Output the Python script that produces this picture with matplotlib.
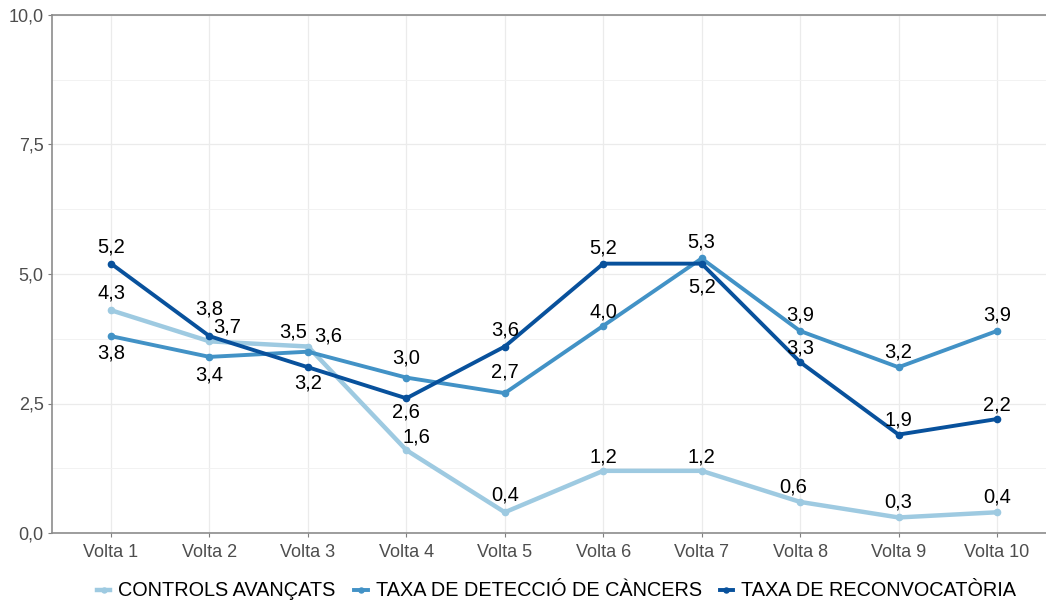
import matplotlib
matplotlib.use("Agg")
import matplotlib.pyplot as plt
import numpy as np

plt.rcParams['font.family'] = ['Liberation Sans', 'DejaVu Sans']

voltes = ["Volta 1", "Volta 2", "Volta 3", "Volta 4", "Volta 5",
          "Volta 6", "Volta 7", "Volta 8", "Volta 9", "Volta 10"]

controls = [4.3, 3.7, 3.6, 1.6, 0.4, 1.2, 1.2, 0.6, 0.3, 0.4]
deteccio = [3.8, 3.4, 3.5, 3.0, 2.7, 4.0, 5.3, 3.9, 3.2, 3.9]
reconv = [5.2, 3.8, 3.2, 2.6, 3.6, 5.2, 5.2, 3.3, 1.9, 2.2]

noms = ["CONTROLS AVANÇATS", "TAXA DE DETECCIÓ DE CÀNCERS", "TAXA DE RECONVOCATÒRIA"]
colors = ["#9ecae1", "#4292c6", "#08519c"]

# decalatge de les etiquetes en pixels (dx, dy), dy positiu = cap avall
off_controls = [(0, -17), (18, -14), (20, -11), (10, -13), (0, -17),
                (0, -14), (0, -14), (-7, -15), (0, -15), (0, -15)]
off_deteccio = [(0, 17), (0, 18), (-15, -20), (0, -20), (0, -21),
                (0, -14), (0, -16), (0, -16), (0, -15), (0, -16)]
off_reconv = [(0, -17), (0, -27), (0, 16), (0, 14), (0, -17),
              (0, -16), (0, 23), (0, -14), (0, -15), (0, -14)]

fig = plt.figure(figsize=(10.46, 6.03), dpi=100)
ax = fig.add_axes([52 / 1046, 70 / 603, (1056 - 52) / 1046, 518 / 603])

x = np.arange(1, len(voltes) + 1)
series = [(controls, off_controls, 3.2), (deteccio, off_deteccio, 2.8), (reconv, off_reconv, 2.8)]
for (vals, offs, lw), nom, c in zip(series, noms, colors):
    ax.plot(x, vals, color=c, lw=lw, marker='o', markersize=4.5, label=nom, zorder=3)
    for xi, v, (dx, dy) in zip(x, vals, offs):
        ax.annotate(f"{v:.1f}".replace(".", ","), (xi, v),
                    xytext=(dx * 0.72, -dy * 0.72), textcoords='offset points',
                    ha='center', va='center', fontsize=14.5, color='black', zorder=4)

ax.set_xlim(0.4, 10.6)
ax.set_ylim(0, 10)
ax.set_xticks(x)
ax.set_xticklabels(voltes)
yt = [0, 2.5, 5, 7.5, 10]
ax.set_yticks(yt)
ax.set_yticklabels([f"{v:.1f}".replace(".", ",") for v in yt])
ax.set_yticks([1.25, 3.75, 6.25, 8.75], minor=True)
ax.grid(True, which='major', color='#ebebeb', lw=0.9)
ax.grid(True, which='minor', axis='y', color='#f2f2f2', lw=0.7)
ax.set_axisbelow(True)
ax.tick_params(axis='both', which='major', labelsize=13, labelcolor='#4d4d4d',
               color='#7f7f7f', length=3, width=0.8, pad=3)
ax.tick_params(axis='x', which='major', pad=5)
ax.tick_params(axis='y', which='minor', length=0)
for s in ax.spines.values():
    s.set_color('#8c8c8c')
    s.set_linewidth(1.2)

fig.legend(loc='center', bbox_to_anchor=(0.532, (603 - 591) / 603), ncol=3,
           frameon=False, fontsize=14.3, handlelength=0.7, handletextpad=0.4,
           columnspacing=0.9, markerscale=0.8)

fig.savefig("out.png", dpi=100)
